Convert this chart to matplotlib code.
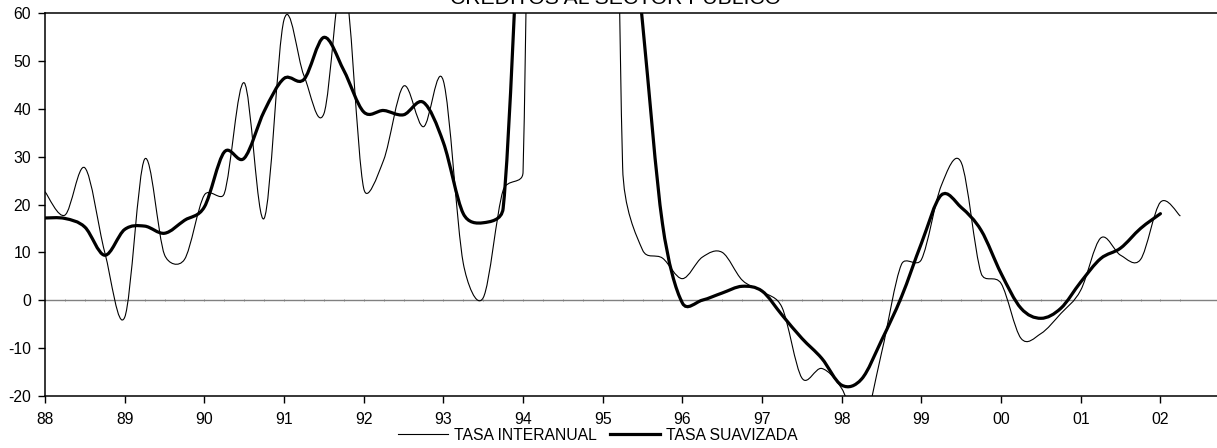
import matplotlib
matplotlib.use("Agg")
import matplotlib.pyplot as plt
import numpy as np
from matplotlib.path import Path
from matplotlib.patches import PathPatch
from matplotlib.lines import Line2D

plt.rcParams["font.family"] = ["Liberation Sans", "DejaVu Sans"]
plt.rcParams["axes.unicode_minus"] = False

title = "CREDITOS AL SECTOR PUBLICO"
series_names = ["TASA INTERANUAL", "TASA SUAVIZADA"]

year_ticks = list(range(88, 103))
year_labels = ["88", "89", "90", "91", "92", "93", "94", "95", "96", "97",
               "98", "99", "00", "01", "02"]

# quarterly values, first quarter 1988
interanual = [22.7, 17.8, 27.7, 10.0, -3.6, 29.5, 9.5, 8.5,
              22.0, 22.3, 45.5, 17.1, 58.7, 47.0, 39.0, 68.0,
              23.4, 29.3, 44.8, 36.3, 45.9, 7.7, 0.5, 23.0,
              26.8, 350.0, 420.0, 400.0, 330.0, 27.9, 10.5, 8.8,
              4.5, 9.0, 10.0, 4.2, 1.8, -1.5, -16.3, -14.3,
              -18.5, -27.0, -11.0, 7.5, 8.5, 24.0, 28.8, 5.6,
              3.5, -8.0, -7.0, -2.8, 2.1, 13.0, 9.4, 8.5,
              20.5, 17.6]
suavizada = [17.2, 17.1, 15.3, 9.4, 14.8, 15.5, 14.0, 16.7,
             19.5, 31.0, 29.7, 39.5, 46.4, 46.2, 55.0, 48.1,
             39.4, 39.7, 38.8, 41.4, 33.0, 18.1, 16.2, 19.2,
             95.0, 140.0, 160.0, 150.0, 125.0, 100.0, 58.0, 16.0,
             -0.6, 0.0, 1.5, 2.9, 1.9, -3.1, -8.0, -12.2,
             -17.8, -16.5, -8.4, 0.7, 11.9, 22.0, 19.4, 14.6,
             5.6, -1.7, -3.8, -1.7, 3.8, 8.7, 10.9, 15.0,
             18.1]
start_year = 88.0

W, H, DPI = 12.17, 4.48, 100
L, R, B, T = 45 / 1217, 1.0, 1 - 395.7 / 448, 1 - 13.5 / 448
XMIN, XMAX, YMIN, YMAX = 88.0, 102.71, -20, 60


def smooth_path(x, y, sx, sy):
    # excel style smoothed line: bezier segments, arms capped at half segment
    p = np.column_stack([np.asarray(x) * sx, np.asarray(y) * sy])
    n = len(p)
    verts = [p[0]]
    codes = [Path.MOVETO]
    for i in range(n - 1):
        p0 = p[max(i - 1, 0)]
        p1 = p[i]
        p2 = p[i + 1]
        p3 = p[min(i + 2, n - 1)]
        d12 = np.hypot(*(p2 - p1))
        d02 = np.hypot(*(p2 - p0))
        d13 = np.hypot(*(p3 - p1))
        f0 = 1 / 6 if d02 / 6 < d12 / 2 else (d12 / (2 * d02) if d02 > 0 else 0)
        f1 = 1 / 6 if d13 / 6 < d12 / 2 else (d12 / (2 * d13) if d13 > 0 else 0)
        c1 = p1 + f0 * (p2 - p0)
        c2 = p2 - f1 * (p3 - p1)
        verts += [c1, c2, p2]
        codes += [Path.CURVE4] * 3
    verts = np.array(verts) / np.array([sx, sy])
    return Path(verts, codes)


fig = plt.figure(figsize=(W, H), dpi=DPI)
ax = fig.add_axes([L, B, R - L, T - B])
ax.set_xlim(XMIN, XMAX)
ax.set_ylim(YMIN, YMAX)

sx = W * DPI * (R - L) / (XMAX - XMIN)
sy = H * DPI * (T - B) / (YMAX - YMIN)

x_int = start_year + 0.25 * np.arange(len(interanual))
x_suav = start_year + 0.25 * np.arange(len(suavizada))

ax.add_patch(PathPatch(smooth_path(x_int, interanual, sx, sy), fill=False,
                       edgecolor="black", lw=0.8, zorder=3))
ax.add_patch(PathPatch(smooth_path(x_suav, suavizada, sx, sy), fill=False,
                       edgecolor="black", lw=2.3, zorder=4, capstyle="round"))

# zero axis with quarterly tick marks
zero_ax = ax.secondary_xaxis((0 - YMIN) / (YMAX - YMIN))
zero_ax.set_xticks(x_int)
zero_ax.set_xticklabels([])
zero_ax.tick_params(direction="inout", length=2, width=0.6, color="#808080")
zero_ax.spines["bottom"].set_color("#808080")
zero_ax.spines["bottom"].set_linewidth(1.0)

ax.set_xticks(year_ticks)
ax.set_xticklabels(year_labels)
ax.set_yticks(range(-20, 61, 10))
ax.tick_params(direction="out", length=5, width=1, labelsize=11.3, pad=7)
ax.tick_params(axis="y", pad=5)
for s in ["left", "bottom", "top"]:
    ax.spines[s].set_linewidth(1.1)
ax.spines["right"].set_visible(False)

handles = [Line2D([], [], color="black", lw=0.8),
           Line2D([], [], color="black", lw=2.3)]
leg = fig.legend(handles, series_names, loc="center", ncol=2,
                 bbox_to_anchor=(598 / 1217, 1 - 435 / 448),
                 fontsize=11.3, frameon=True, fancybox=False,
                 handlelength=3.2, handletextpad=0.4, columnspacing=0.8,
                 borderpad=0.1, borderaxespad=0)
leg.get_frame().set_edgecolor("white")
leg.get_frame().set_facecolor("white")
leg.get_frame().set_alpha(1)

fig.text(616 / 1217, 1 - 4.5 / 448, title, ha="center", va="baseline",
         fontsize=15.2)

fig.savefig("out.png", dpi=DPI, facecolor="white")
